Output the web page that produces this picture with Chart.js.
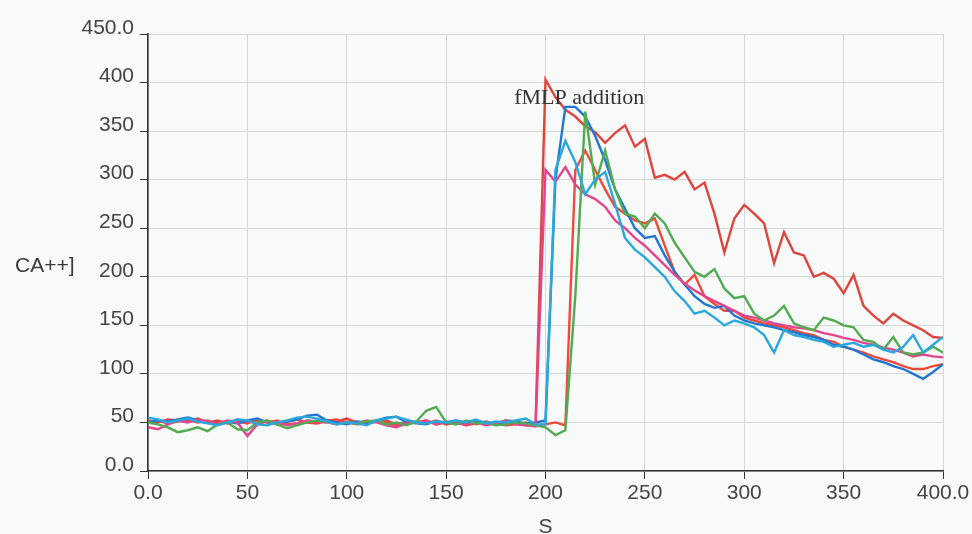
<!DOCTYPE html>
<html>
<head>
<meta charset="utf-8">
<script src="https://cdn.jsdelivr.net/npm/chart.js@4.4.1/dist/chart.umd.min.js"></script>
<style>
  html,body{margin:0;padding:0;background:#f7faf8;}
  #wrap{width:972px;height:534px;position:relative;}
</style>
</head>
<body>
<div id="wrap"><canvas id="calcium" width="972" height="534"></canvas></div>
<script>
// time axis (s)
const seconds=[0,5,10,15,20,25,30,35,40,45,50,55,60,65,70,75,80,85,90,95,
  100,105,110,115,120,125,130,135,140,145,150,155,160,165,170,175,180,185,190,195,
  200,205,210,215,220,225,230,235,240,245,250,255,260,265,270,275,280,285,290,295,
  300,305,310,315,320,325,330,335,340,345,350,355,360,365,370,375,380,385,390,395,400];

// [Ca++] traces
const redHigh=[52,50,53,52,51,54,50,52,49,53,51,50,52,48,51,53,50,49,52,51,
  54,50,49,51,52,48,50,51,49,52,48,50,47,49,51,48,50,49,47,48,
  403,385,372,365,355,349,338,348,356,334,342,302,305,300,308,290,297,265,225,260,
  274,265,255,214,246,225,222,200,204,198,183,202,170,160,152,162,155,150,145,138,137];
const redLate=[50,52,49,51,53,50,52,48,50,51,49,53,50,52,48,49,51,50,52,53,
  50,48,49,51,50,47,49,50,52,48,50,49,51,48,50,49,47,48,50,47,
  48,50,47,310,330,310,290,272,265,258,255,260,232,205,192,202,180,172,165,165,
  158,155,152,150,148,145,142,140,135,133,128,125,122,118,115,112,108,105,105,108,110];
const magenta=[45,43,48,52,50,53,51,49,52,50,36,48,51,50,47,49,52,51,50,48,
  51,49,52,50,47,45,49,50,52,48,51,49,48,50,47,49,52,48,47,46,
  310,298,313,295,285,280,272,258,250,240,232,222,212,202,193,186,180,175,170,165,
  160,158,155,152,150,148,147,145,142,140,137,135,132,130,127,125,122,118,120,118,117];
const blue=[50,52,51,53,55,52,50,48,51,49,52,54,50,48,51,53,57,58,52,50,
  48,51,50,52,55,56,50,49,48,51,50,52,49,51,50,48,52,51,49,50,
  52,300,375,375,365,345,320,290,270,250,240,242,222,205,192,180,172,168,170,160,
  155,152,150,148,145,143,140,138,135,130,128,125,120,115,112,108,105,100,95,102,110];
const cyan=[55,53,50,52,54,51,49,47,50,53,52,48,47,50,52,55,56,54,51,48,
  50,49,47,52,54,56,53,50,49,51,50,52,50,53,49,51,50,52,54,48,
  48,310,340,318,285,300,308,275,240,228,220,210,200,185,175,162,165,158,150,155,
  152,148,140,122,145,140,138,135,133,128,130,132,128,130,125,122,128,140,122,130,138];
const green=[50,48,45,40,42,45,41,48,50,43,42,50,52,48,44,47,50,52,51,48,
  50,49,51,52,48,50,47,51,62,66,50,48,52,49,50,47,48,50,49,47,
  45,37,42,180,370,295,330,290,265,262,250,265,255,235,220,205,200,208,188,178,
  180,162,155,160,170,152,148,145,158,155,150,148,135,133,125,138,122,120,122,128,122];

const yTicks=[0,50,100,150,200,250,300,350,400,450];
const xTicks=[0,50,100,150,200,250,300,350,400];

const traces=[
  {vals:cyan,color:'#2aa8dc'},
  {vals:green,color:'#52aa52'},
  {vals:magenta,color:'#e2458e'},
  {vals:blue,color:'#2176d0'},
  {vals:redLate,color:'#ee4a3c'},
  {vals:redHigh,color:'#e0443e'}
];

function pts(vals){return seconds.map((s,i)=>({x:s,y:vals[i]}));}

function edgeLabel(v,first,last){
  return (v===first||v===last)?v.toFixed(1):String(v);
}

const textPlugin={
  id:'notes',
  afterDraw(chart){
    const c=chart.ctx, xs=chart.scales.x, ys=chart.scales.y;
    c.save();
    c.fillStyle='#3a3a3a';
    c.font='21px "Liberation Sans", Arial, sans-serif';
    c.textAlign='left';c.textBaseline='middle';
    c.fillText('CA++]',15,266);
    c.fillStyle='#333';
    c.font='22px "Liberation Serif", "Times New Roman", serif';
    c.textAlign='center';
    c.fillText('fMLP addition',xs.getPixelForValue(217),ys.getPixelForValue(384));
    c.restore();
  }
};

const tickFont={family:'"Liberation Sans", Arial, sans-serif',size:21};

new Chart(document.getElementById('calcium'),{
  type:'line',
  data:{datasets:traces.map(t=>({
    data:pts(t.vals),borderColor:t.color,borderWidth:2.4,
    pointRadius:0,tension:0,fill:false
  }))},
  options:{
    responsive:false,animation:false,
    layout:{padding:{top:34,right:29,left:0,bottom:0}},
    plugins:{legend:{display:false},tooltip:{enabled:false}},
    scales:{
      x:{type:'linear',min:0,max:400,
        afterBuildTicks(s){s.ticks=xTicks.map(v=>({value:v}));},
        afterFit(s){s.height=63;},
        grid:{color:'#d6d8d6',tickColor:'#333',tickLength:8,lineWidth:1},
        border:{color:'#333',width:1.6},
        ticks:{color:'#444',font:tickFont,padding:2,maxRotation:0,
          callback:v=>edgeLabel(v,0,400)},
        title:{display:true,text:'S',color:'#444',font:{...tickFont,lineHeight:1},padding:{top:0,bottom:-4}}
      },
      y:{min:0,max:450,
        afterBuildTicks(s){s.ticks=yTicks.map(v=>({value:v}));},
        afterFit(s){s.width=148;},
        grid:{color:'#d6d8d6',tickColor:'#333',tickLength:8,lineWidth:1},
        border:{color:'#333',width:1.6},
        ticks:{color:'#444',font:tickFont,padding:6,labelOffset:-6,
          callback:v=>edgeLabel(v,0,450)}
      }
    }
  },
  plugins:[textPlugin]
});
</script>
</body>
</html>
